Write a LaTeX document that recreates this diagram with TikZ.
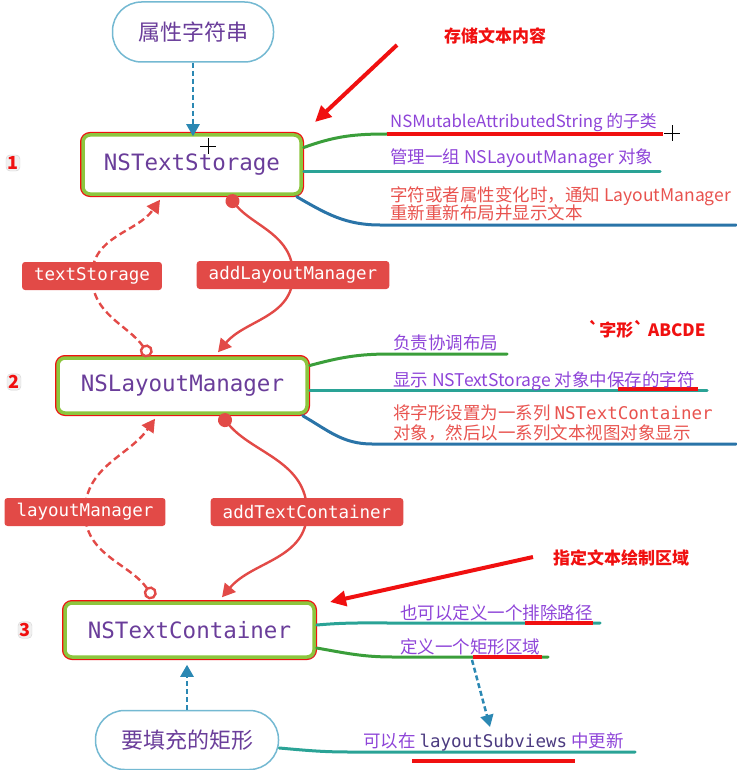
\documentclass[tikz,border=0pt]{standalone}
\usepackage{fontspec}
\setmainfont{Noto Sans CJK SC}
\setmonofont{DejaVu Sans Mono}
\usetikzlibrary{arrows.meta,calc,shadows}

\definecolor{nodetxt}{HTML}{6A3D9A}
\definecolor{monotxt}{HTML}{4B3A80}
\definecolor{annpurple}{HTML}{8E44D8}
\definecolor{annred}{HTML}{E8534F}
\definecolor{lblred}{HTML}{E24A47}
\definecolor{brgreen}{HTML}{3A9E3A}
\definecolor{brteal}{HTML}{2AA396}
\definecolor{brblue}{HTML}{2A74A8}
\definecolor{pillblue}{HTML}{74B9D2}
\definecolor{arrblue}{HTML}{2B88B3}
\definecolor{boxgreen}{HTML}{8CC63E}
\definecolor{callred}{HTML}{F01010}

\begin{document}
\begin{tikzpicture}[x=1pt,y=1pt,
  mainbox/.style={rectangle, rounded corners=7pt, fill=white, draw=boxgreen, line width=3.5pt,
    preaction={draw=callred, line width=6pt},
    drop shadow={opacity=0.3, shadow xshift=1.5pt, shadow yshift=-2pt},
    font=\ttfamily\fontsize{22.5}{26}\selectfont, text=nodetxt, inner sep=0pt},
  pill/.style={rectangle, rounded corners=29pt, draw=pillblue, line width=1.5pt, fill=white,
    text=nodetxt, font=\fontsize{22}{26}\selectfont, inner sep=0pt},
  lbl/.style={rectangle, fill=lblred, text=white, rounded corners=3pt,
    font=\ttfamily\fontsize{17.5}{20}\selectfont, minimum height=28pt, inner xsep=12pt, inner ysep=0pt},
  ann/.style={font=\fontsize{17.5}{20}\selectfont, text=annpurple, anchor=base west, inner sep=0pt},
  annr/.style={ann, text=annred},
  callout/.style={font=\bfseries\fontsize{17}{20}\selectfont, text=callred, inner sep=1pt},
  calloutarrow/.style={callred, line width=4pt, -{Triangle[length=16pt,width=15pt]}},
  numlbl/.style={font=\bfseries\fontsize{18}{20}\selectfont, text=callred, fill=gray!12, draw=gray!35,
    rounded corners=4pt, inner sep=1.5pt},
  br/.style={line width=3pt, line cap=round},
  redul/.style={callred, line width=3.5pt},
  bluedash/.style={arrblue, line width=2.5pt, dash pattern=on 5pt off 3pt, -{Triangle[length=12pt,width=13pt]}},
  redcon/.style={lblred, line width=2.4pt},
  reddash/.style={redcon, dash pattern=on 7pt off 4pt},
  opentip/.style={{Circle[fill=white,length=13pt]}-{Triangle[length=13pt,width=14pt]}},
  filltip/.style={{Circle[length=14pt]}-{Triangle[length=13pt,width=14pt]}},
  cursor/.style={black, line width=0.8pt}
]
\useasboundingbox (0,0) rectangle (736,-770);

% main nodes
\node[pill, minimum width=161pt, minimum height=60pt] (ptop) at (193,-32) {属性字符串};
\node[mainbox, minimum width=218pt, minimum height=59pt] (ts) at (192,-164.5) {NSTextStorage};
\node[mainbox, minimum width=249pt, minimum height=55pt] (lm) at (182.5,-385.5) {NSLayoutManager};
\node[mainbox, minimum width=249pt, minimum height=54pt] (tc) at (189.5,-630) {NSTextContainer};
\node[pill, minimum width=183pt, minimum height=59pt] (pbot) at (187,-740) {要填充的矩形};

% numbers
\node[numlbl] (n1) at (13,-163) {1};
\node[numlbl] (n2) at (14,-382) {2};
\node[numlbl] (n3) at (25,-630) {3};

% blue dashed arrows
\draw[bluedash] (ptop.south) -- ($(ptop.south |- ts.north)+(0,-3)$);
\draw[bluedash] (pbot.north) -- ($(pbot.north |- tc.south)+(0,-6)$);

% labels on red connectors
\coordinate (A1) at ($(lm.north)+(-32.5,0)$);
\coordinate (A2) at ($(ts.south)+(-32,-4)$);
\coordinate (B1) at ($(ts.south)+(36,0)$);
\coordinate (B2) at ($(lm.north)+(35.5,4)$);
\coordinate (C1) at ($(tc.north)+(-35.5,3)$);
\coordinate (C2) at ($(lm.south)+(-27.5,-4)$);
\coordinate (D1) at ($(lm.south)+(38,0)$);
\coordinate (D2) at ($(tc.north)+(32.5,4)$);
\coordinate (tslc) at (92,-276);
\coordinate (almc) at (293,-275);
\coordinate (lmlc) at (85,-512);
\coordinate (atcc) at (307,-512);

\draw[reddash, opentip] (A1) to[out=125,in=-90] (tslc) to[out=90,in=-125] (A2);
\draw[redcon, filltip] (B1) to[out=-50,in=90] (almc) to[out=-90,in=50] (B2);
\draw[reddash, opentip] (C1) to[out=125,in=-90] (lmlc) to[out=90,in=-125] (C2);
\draw[redcon, filltip] (D1) to[out=-50,in=90] (atcc) to[out=-90,in=50] (D2);

\node[lbl] (tsl) at (tslc) {textStorage};
\node[lbl] (alm) at (almc) {addLayoutManager};
\node[lbl] (lml) at (lmlc) {layoutManager};
\node[lbl] (atc) at (atcc) {addTextContainer};

% ---- NSTextStorage branches
\coordinate (t1a) at ($(ts.east)+(1,17)$);
\coordinate (t1b) at (387,-134);
\coordinate (t1c) at (663,-134);
\draw[br, brgreen] (t1a) to[out=20,in=180] (t1b);
\draw[redul] (t1b) -- (t1c);
\node[ann, font=\fontsize{16.8}{20}\selectfont] (ts1) at (390,-128) {NSMutableAttributedString 的子类};

\coordinate (t2a) at ($(ts.east)+(1,-7.5)$);
\coordinate (t2b) at (660,-172);
\draw[br, brteal] (t2a) -- (t2b);
\node[ann] (ts2) at (390,-164) {管理一组 NSLayoutManager 对象};

\coordinate (t3a) at ($(ts.south east)+(-6,-1)$);
\coordinate (t3b) at (380,-225);
\coordinate (t3c) at (736,-225);
\draw[br, brblue] (t3a) to[out=-30,in=180] (t3b) -- (t3c);
\node[annr] (ts3) at (390,-201) {字符或者属性变化时，通知 LayoutManager};
\node[annr] (ts4) at (390,-219) {重新重新布局并显示文本};

% ---- NSLayoutManager branches
\coordinate (l1a) at ($(lm.east)+(1,20)$);
\coordinate (l1b) at (390,-354);
\coordinate (l1c) at (507,-354);
\draw[br, brgreen] (l1a) to[out=15,in=180] (l1b) -- (l1c);
\node[ann] (lm1) at (393,-349) {负责协调布局};

\coordinate (l2a) at ($(lm.east)+(1,-4.5)$);
\coordinate (l2b) at (707,-390);
\draw[br, brteal] (l2a) -- (l2b);
\coordinate (l2u) at (618,-389);
\coordinate (l2v) at (698,-389);
\draw[redul] (l2u) -- (l2v);
\node[ann] (lm2) at (393,-386) {显示 NSTextStorage 对象中保存的字符};

\coordinate (l3a) at ($(lm.south east)+(-6,-1)$);
\coordinate (l3b) at (372,-444);
\coordinate (l3c) at (736,-444);
\draw[br, brblue] (l3a) to[out=-30,in=180] (l3b) -- (l3c);
\node[annr] (lm3) at (393,-419) {将字形设置为一系列 \texttt{NSTextContainer}};
\node[annr] (lm4) at (393,-439) {对象，然后以一系列文本视图对象显示};

\node[callout] (glyph) at (647,-329) {\textasciigrave 字形\textasciigrave{} ABCDE};

% ---- NSTextContainer branches
\coordinate (c1a) at ($(tc.east)+(1,5)$);
\coordinate (c1b) at (393,-623);
\coordinate (c1c) at (600,-623);
\draw[br, brteal] (c1a) to[out=5,in=180] (c1b) -- (c1c);
\coordinate (c1u) at (525,-623);
\coordinate (c1v) at (593,-623);
\draw[redul] (c1u) -- (c1v);
\node[ann] (tc1) at (400,-619) {也可以定义一个排除路径};

\coordinate (c2a) at ($(tc.east)+(1,-18)$);
\coordinate (c2b) at (393,-657);
\coordinate (c2c) at (548,-657);
\draw[br, brgreen] (c2a) to[out=-10,in=180] (c2b) -- (c2c);
\coordinate (c2u) at (473,-657);
\coordinate (c2v) at (542,-657);
\draw[redul] (c2u) -- (c2v);
\node[ann] (tc2) at (400,-653) {定义一个矩形区域};

\coordinate (c3a) at (472,-660);
\coordinate (c3b) at (490,-727);
\draw[bluedash] (c3a) -- (c3b);

% ---- bottom branch
\coordinate (p1a) at ($(pbot.east)+(0,-8)$);
\coordinate (p1b) at (350,-752);
\coordinate (p1c) at (635,-752);
\draw[br, brteal] (p1a) to[out=-5,in=180] (p1b) -- (p1c);
\coordinate (p1u) at (412,-761);
\coordinate (p1v) at (575,-761);
\draw[redul] (p1u) -- (p1v);
\node[ann] (pb1) at (363,-747) {可以在 \textcolor{monotxt}{\ttfamily layoutSubviews} 中更新};

% ---- callouts
\node[callout] (co1) at (495,-36) {存储文本内容};
\coordinate (co1s) at (397,-45);
\coordinate (co1e) at (315,-122);
\draw[calloutarrow] (co1s) -- (co1e);

\node[callout] (co2) at (621,-558) {指定文本绘制区域};
\coordinate (co2s) at (533,-557);
\coordinate (co2e) at (330,-602);
\draw[calloutarrow] (co2s) -- (co2e);

% cursor marks
\coordinate (k1) at (208,-146);
\coordinate (k2) at (672,-133);
\draw[cursor] ($(k1)+(-8,0)$) -- ($(k1)+(8,0)$) ($(k1)+(0,-8)$) -- ($(k1)+(0,8)$);
\draw[cursor] ($(k2)+(-8,0)$) -- ($(k2)+(8,0)$) ($(k2)+(0,-8)$) -- ($(k2)+(0,8)$);
\end{tikzpicture}
\end{document}
